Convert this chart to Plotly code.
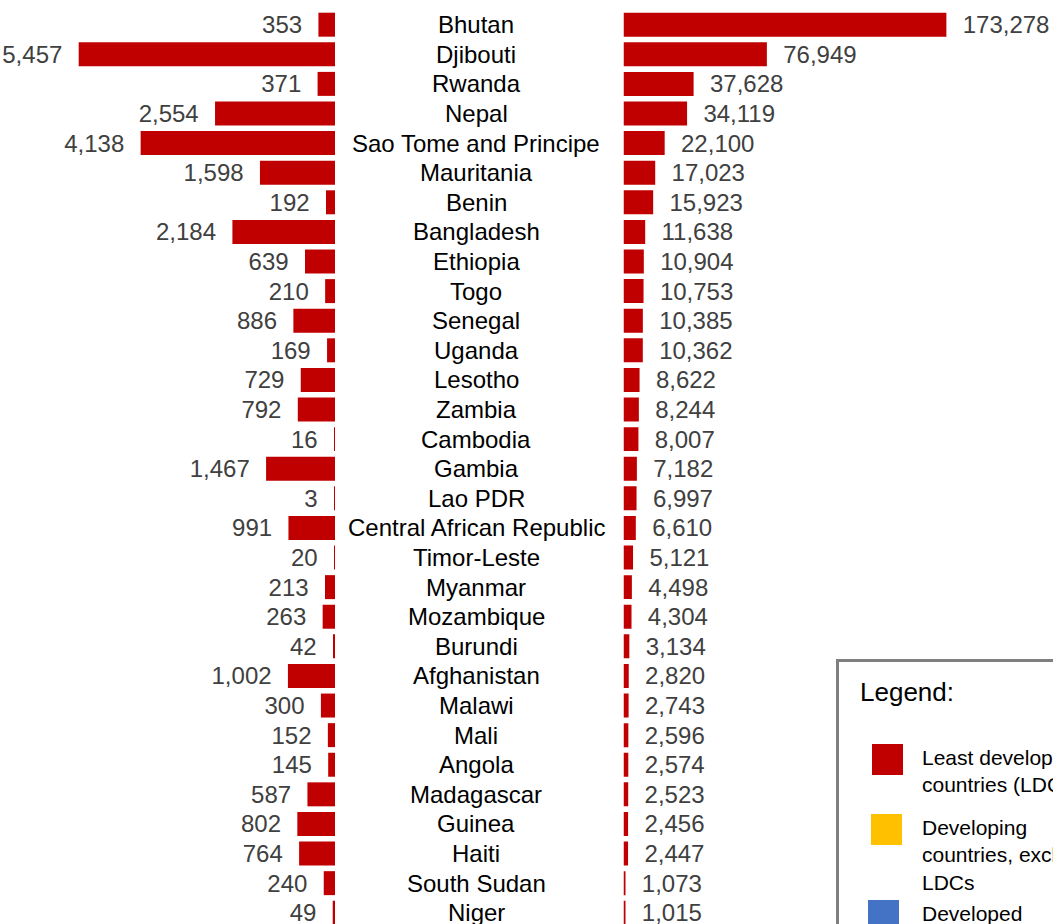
import plotly.graph_objects as go

countries = ["Bhutan", "Djibouti", "Rwanda", "Nepal", "Sao Tome and Principe", "Mauritania",
             "Benin", "Bangladesh", "Ethiopia", "Togo", "Senegal", "Uganda", "Lesotho", "Zambia",
             "Cambodia", "Gambia", "Lao PDR", "Central African Republic", "Timor-Leste", "Myanmar",
             "Mozambique", "Burundi", "Afghanistan", "Malawi", "Mali", "Angola", "Madagascar",
             "Guinea", "Haiti", "South Sudan", "Niger"]
left_values = [353, 5457, 371, 2554, 4138, 1598, 192, 2184, 639, 210, 886, 169, 729, 792, 16,
               1467, 3, 991, 20, 213, 263, 42, 1002, 300, 152, 145, 587, 802, 764, 240, 49]
right_values = [173278, 76949, 37628, 34119, 22100, 17023, 15923, 11638, 10904, 10753, 10385,
                10362, 8622, 8244, 8007, 7182, 6997, 6610, 5121, 4498, 4304, 3134, 2820, 2743,
                2596, 2574, 2523, 2456, 2447, 1073, 1015]
legend_labels = ["Least developed<br>countries (LDCs)", "Developing<br>countries, excl.<br>LDCs",
                 "Developed<br>countries"]
legend_colors = ["#C00000", "#FFC000", "#4472C4"]

W, H = 1053, 924
FONT = "Liberation Sans, Arial, sans-serif"
RED = "#C00000"
FS = 24

fig = go.Figure()
fig.add_trace(go.Bar(
    y=countries, x=left_values, orientation="h", xaxis="x", yaxis="y",
    marker=dict(color=RED, line=dict(width=0)),
    text=[f"{v:,}  " for v in left_values], textposition="outside",
    textfont=dict(family=FONT, size=FS, color="#404040"),
    constraintext="none", cliponaxis=False, showlegend=False, hoverinfo="skip"))
fig.add_trace(go.Bar(
    y=countries, x=right_values, orientation="h", xaxis="x2", yaxis="y",
    marker=dict(color=RED, line=dict(width=0)),
    text=[f"  {v:,}" for v in right_values], textposition="outside",
    textfont=dict(family=FONT, size=FS, color="#404040"),
    constraintext="none", cliponaxis=False, showlegend=False, hoverinfo="skip"))

for c in countries:
    fig.add_annotation(x=476 / W, xref="paper", y=c, yref="y", text=c, showarrow=False,
                       xanchor="center", yanchor="middle",
                       font=dict(family=FONT, size=FS, color="black"))

def py(p):
    return 1 - p / H

# legend box
fig.add_shape(type="rect", xref="paper", yref="paper", x0=837.5 / W, x1=1.2, y0=-0.2, y1=py(660.5),
              line=dict(color="#7F7F7F", width=3), fillcolor="white", layer="above")
fig.add_annotation(x=858 / W, y=py(692), xref="paper", yref="paper", text="Legend:",
                   showarrow=False, xanchor="left", yanchor="middle",
                   font=dict(family=FONT, size=26, color="black"))
sq = [(872, 744), (871, 814), (868, 900)]
for (sx, sy), col, lab in zip(sq, legend_colors, legend_labels):
    fig.add_shape(type="rect", xref="paper", yref="paper", x0=sx / W, x1=(sx + 31) / W,
                  y0=py(sy + 31), y1=py(sy), line=dict(width=0), fillcolor=col, layer="above")
    fig.add_annotation(x=920 / W, y=py(sy), xref="paper", yref="paper", text=lab,
                       showarrow=False, xanchor="left", yanchor="top", align="left",
                       font=dict(family=FONT, size=21, color="black"))

fig.update_layout(
    width=W, height=H, margin=dict(l=0, r=0, t=0, b=0),
    paper_bgcolor="white", plot_bgcolor="white", bargap=0.19,
    xaxis=dict(domain=[0, 335 / W], range=[7132, 0], visible=False, fixedrange=True),
    xaxis2=dict(domain=[623.5 / W, 1], range=[0, 230500], visible=False, fixedrange=True),
    yaxis=dict(categoryorder="array", categoryarray=countries, range=[30.38, -0.834],
               visible=False, fixedrange=True),
)

fig.write_html("out.html", config={"displayModeBar": False},
               post_script="document.body.style.margin='0';")
